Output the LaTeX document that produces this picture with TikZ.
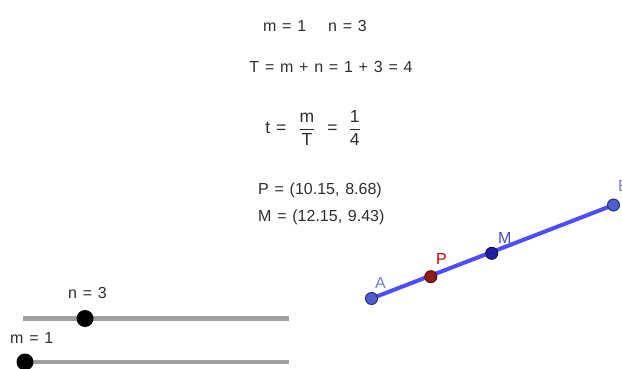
\documentclass[tikz,border=0pt]{standalone}
\usepackage{amsmath}
\usepackage{fontspec}
\setmainfont{Liberation Sans}
\usepackage{xcolor}
\usetikzlibrary{positioning}

\definecolor{ggtext}{HTML}{2E2E2E}
\definecolor{ggseg}{HTML}{4D4DFF}
\definecolor{ggfree}{HTML}{4D5FD0}
\definecolor{ggred}{HTML}{8E1C1C}
\definecolor{ggdark}{HTML}{1E1EA0}
\definecolor{ggslide}{HTML}{A0A0A0}

\tikzset{
  txt/.style={text=ggtext, inner sep=0pt, font=\fontsize{16}{19}\selectfont,
    execute at begin node={\spaceskip=0.36em\relax}},
  ggpt/.style={circle, inner sep=0pt, minimum size=12pt, fill=#1, draw=#1!55!black, line width=1pt},
  ptlabel/.style={inner sep=0pt, font=\fontsize{16}{19}\selectfont, text=#1},
  slider/.style={draw=ggslide, line width=4.5pt},
  knob/.style={circle, fill=black, inner sep=0pt, minimum size=17pt}
}

\begin{document}
\begin{tikzpicture}[x=1pt, y=-1pt, >=stealth]
    \useasboundingbox (0,0) rectangle (622,369);
    \clip (0,0) rectangle (622,369);

    \node[txt, anchor=base] (vals) at (315,32) {m = 1\hspace{22pt}n = 3};
    \node[txt, anchor=base] (sum) at (331,73) {T = m + n = 1 + 3 = 4};
    \node[txt, font=\fontsize{17.5}{21}\selectfont] (ratio) at (313,128)
        {t\hspace{6pt}=\hspace{12pt}$\displaystyle\frac{\mbox{m}}{\mbox{T}}$\hspace{12pt}=\hspace{11pt}$\displaystyle\frac{\mbox{1}}{\mbox{4}}$};
    \node[txt, anchor=base west] (pcoord) at (258,194) {P = (10.15, 8.68)};
    \node[txt, anchor=base west] (mcoord) at (258,221) {M = (12.15, 9.43)};

    \coordinate (A) at (371.5,298.5);
    \coordinate (B) at (613.5,205);
    \draw[ggseg, line width=4pt] (A) -- (B);
    \node[ggpt=ggfree] (ptA) at (A) {};
    \node[ggpt=ggfree] (ptB) at (B) {};
    \node[ggpt=ggred] (ptP) at (430.8,276.7) {};
    \node[ggpt=ggdark] (ptM) at (491.7,253.3) {};
    \node[ptlabel=ggfree!80!white, anchor=base west] (labA) at (375,288) {A};
    \node[ptlabel=red!80!black, anchor=base west] (labP) at (436,264) {P};
    \node[ptlabel=ggdark!80!white, anchor=base west] (labM) at (498,243) {M};
    \node[ptlabel=ggfree!80!white, anchor=base west] (labB) at (618,191) {B};

    \coordinate (n0) at (23,318.5);
    \coordinate (n1) at (289,318.5);
    \draw[slider] (n0) -- (n1);
    \node[knob] (kn) at (85,318.5) {};
    \node[txt, anchor=base west] (nval) at (68,298) {n = 3};

    \coordinate (m0) at (18,362);
    \coordinate (m1) at (289,362);
    \draw[slider] (m0) -- (m1);
    \node[knob] (km) at (25,362) {};
    \node[txt, anchor=base west] (mval) at (10,343) {m = 1};
\end{tikzpicture}
\end{document}
